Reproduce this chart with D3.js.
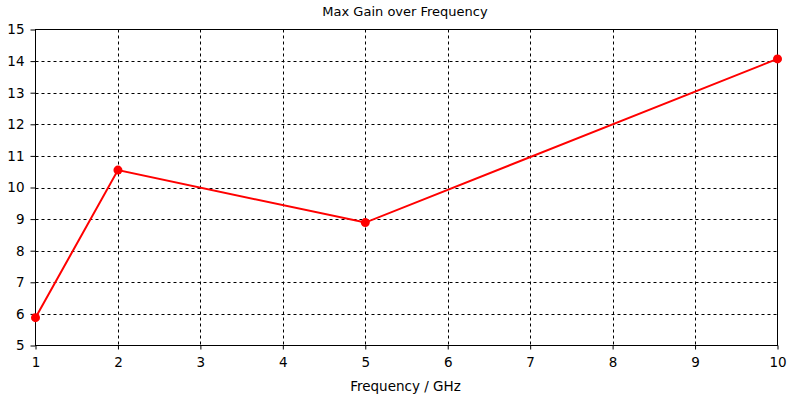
<!DOCTYPE html>
<html><head><meta charset="utf-8">
<script src="https://cdn.jsdelivr.net/npm/d3@7"></script>
<style>body{margin:0;background:#fff}svg{display:block}text{font-family:"DejaVu Sans",sans-serif;font-size:13px;fill:#000}</style>
</head><body><svg id="c" width="799" height="397"></svg>
<script>
const freqs = [1, 2, 5, 10];
const gains = [5.88, 10.55, 8.89, 14.07];
const xTicks = [1,2,3,4,5,6,7,8,9,10];
const yTicks = [5,6,7,8,9,10,11,12,13,14,15];
const title = "Max Gain over Frequency";
const xLabel = "Frequency / GHz";

const svg = d3.select("#c");
const L=35.5, R=777.5, T=29.5, B=345.5;
const x = d3.scaleLinear().domain([1,10]).range([L,R]);
const y = d3.scaleLinear().domain([5,15]).range([B,T]);

const g = svg.append("g");
g.selectAll(".gx").data(xTicks.slice(1,-1)).join("line")
 .attr("x1",d=>Math.round(x(d))+0.5).attr("x2",d=>Math.round(x(d))+0.5)
 .attr("y1",T).attr("y2",B).attr("stroke","#000").attr("stroke-dasharray","3,3");
g.selectAll(".gy").data(yTicks.slice(1,-1)).join("line")
 .attr("y1",d=>Math.round(y(d))+0.5).attr("y2",d=>Math.round(y(d))+0.5)
 .attr("x1",L).attr("x2",R).attr("stroke","#000").attr("stroke-dasharray","3,3");
g.append("rect").attr("x",L).attr("y",T).attr("width",R-L).attr("height",B-T)
 .attr("fill","none").attr("stroke","#000");
const xa = svg.append("g").attr("transform",`translate(0,${B})`)
 .call(d3.axisBottom(x).tickValues(xTicks).tickFormat(d3.format("d")).tickSize(4).tickPadding(8));
const ya = svg.append("g").attr("transform",`translate(${L},0)`)
 .call(d3.axisLeft(y).tickValues(yTicks).tickFormat(d3.format("d")).tickSize(5).tickPadding(6));
[xa,ya].forEach(a=>{a.select(".domain").remove();a.selectAll("text").style("font-family","DejaVu Sans").style("font-size","13.5px").attr("fill","#000");a.selectAll("line").attr("stroke","#000");});

const pts = freqs.map((f,i)=>[f,gains[i]]);
svg.append("path").datum(pts).attr("fill","none").attr("stroke","#ff0000").attr("stroke-width",2)
 .attr("d",d3.line().x(d=>x(d[0])).y(d=>y(d[1])));
svg.selectAll(".pt").data(pts).join("circle").attr("cx",d=>x(d[0])).attr("cy",d=>y(d[1])).attr("r",4.5).attr("fill","#ff0000");

svg.append("text").attr("x",405).attr("y",16).attr("text-anchor","middle").text(title);
svg.append("text").attr("x",405.5).attr("y",391).attr("text-anchor","middle").style("font-size","13.5px").text(xLabel);
</script></body></html>
